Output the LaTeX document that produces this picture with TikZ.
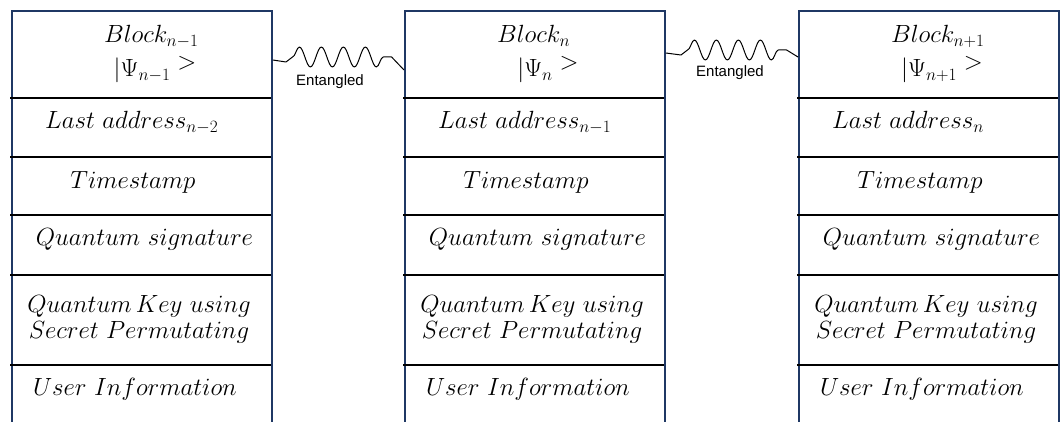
\documentclass[tikz,border=0pt]{standalone}
\usepackage{fontspec}
\newfontfamily\tagfont{Liberation Sans}
\usetikzlibrary{decorations.pathmorphing,calc}
\definecolor{edgeblue}{HTML}{1F3864}

\tikzset{
  blockframe/.style={draw=edgeblue, line width=1.8pt, minimum width=260pt,
    minimum height=430pt, inner sep=0pt, anchor=north west},
  rowline/.style={draw=black, line width=1.8pt},
  celltext/.style={font=\fontsize{25}{30}\selectfont, inner sep=0pt, anchor=base},
  wire/.style={draw=black, line width=1pt, line join=round},
  snakewave/.style={decoration={snake, amplitude=10pt, segment length=22pt}},
  tag/.style={font=\tagfont\fontsize{15}{18}\selectfont, inner sep=0pt}
}

\begin{document}
\begin{tikzpicture}[x=1pt,y=1pt]
\useasboundingbox (0,0) rectangle (1064,-422);
\clip (0,0) rectangle (1064,-422);
\fill[white] (0,0) rectangle (1064,-422);

% three chained blocks: left edge x, block index, own index, previous address index
\foreach \i/\lx/\bs/\as in {1/11/{n-1}/{n-2}, 2/404/{n}/{n-1}, 3/798/{n+1}/{n}} {
  \node[blockframe] (B\i) at (\lx,-10) {};
  \foreach \y in {98,157,215,275,365}
    \draw[rowline] (\lx-1,-\y) -- (\lx+260,-\y);
  \node[celltext, anchor=base west] (H\i) at (\lx+93,-43) {$Block_{\bs}$};
  \node[celltext] (P\i) at (\lx+144,-77) {$|\Psi_{\bs}\;\raisebox{7pt}{$>$}$};
  \node[celltext, anchor=base west] (L\i) at (\lx+34,-129) {$Last\ address_{\as}$};
  \node[celltext] (T\i) at (\lx+122,-189) {$Timestamp$};
  \node[celltext] (S\i) at (\lx+133.5,-245) {$Quantum\ signature$};
  \node[celltext] (K\i) at (\lx+128,-312) {$Quantum\,Key\ using$};
  \node[celltext] (R\i) at (\lx+128,-338) {$Secret\ Permutating$};
  \node[celltext] (U\i) at (\lx+124,-395) {$User\ Information$};
}

% entanglement links between neighbouring blocks
\coordinate (w1s) at (B1.north east |- 0,-60);
\coordinate (w1a) at (286,-62);
\coordinate (w1b) at (292.5,-57);
\coordinate (w1c) at (391.6,-57);
\coordinate (w1e) at (B2.north west |- 0,-70);
\draw[wire] (w1s) -- (w1a) -- (w1b) decorate[snakewave]{-- (w1c)} -- (w1e);
\node[tag] (e1) at (330,-82) {Entangled};

\coordinate (w2s) at (B2.north east |- 0,-53);
\coordinate (w2a) at (681,-55);
\coordinate (w2b) at (687.5,-50);
\coordinate (w2c) at (786.6,-50);
\coordinate (w2e) at (B3.north west |- 0,-57);
\draw[wire] (w2s) -- (w2a) -- (w2b) decorate[snakewave]{-- (w2c)} -- (w2e);
\node[tag] (e2) at (730,-73) {Entangled};
\end{tikzpicture}
\end{document}
